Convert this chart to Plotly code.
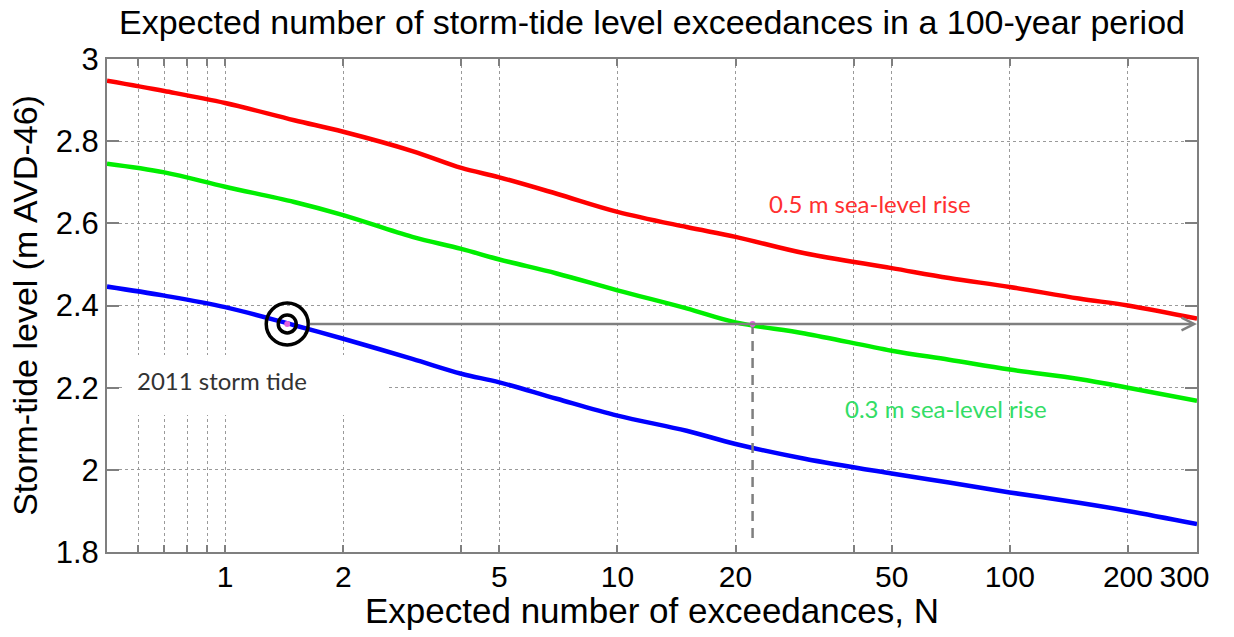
import math
import plotly.graph_objects as go

# ---- data ----
N = [0.5, 0.7, 1, 1.5, 2, 3, 4, 5, 7, 10, 15, 20, 30, 50, 70, 100, 150, 200, 300]
level_slr05 = [2.947, 2.922, 2.893, 2.851, 2.823, 2.776, 2.735, 2.712, 2.672, 2.628, 2.591,
               2.567, 2.527, 2.491, 2.467, 2.445, 2.417, 2.400, 2.368]
level_slr03 = [2.745, 2.724, 2.689, 2.652, 2.620, 2.567, 2.538, 2.512, 2.478, 2.437, 2.393,
               2.359, 2.332, 2.290, 2.268, 2.244, 2.221, 2.200, 2.168]
level_now = [2.446, 2.424, 2.396, 2.352, 2.319, 2.270, 2.234, 2.213, 2.173, 2.132, 2.095,
             2.063, 2.027, 1.991, 1.969, 1.945, 1.920, 1.900, 1.868]

storm_N = 1.44          # 2011 storm tide expected exceedances (today)
storm_level = 2.355     # 2011 storm tide level
slr_N = 22.1            # exceedances of the same level with 0.3 m SLR
dash_bottom = 1.822

x_tickvals = [0.6, 0.7, 0.8, 0.9, 1, 2, 4, 5, 10, 20, 40, 50, 100, 200, 300]
x_ticktext = ['', '', '', '', '1', '2', '', '5', '10', '20', '', '50', '100', '200',
              '300\u00a0\u00a0\u00a0']
x_range = [0.5, 300]
y_range = [1.8, 3.0]

AX_FONT = "Liberation Sans, Arial, sans-serif"
NOTE_FONT = "Lato, Open Sans, sans-serif"
GRAY = "#7f7f7f"

fig = go.Figure()

fig.add_trace(go.Scatter(x=N, y=level_slr05, mode="lines", line_shape="spline",
                         line=dict(color="#ff0000", width=4.5), hoverinfo="skip"))
fig.add_trace(go.Scatter(x=N, y=level_slr03, mode="lines", line_shape="spline",
                         line=dict(color="#00ee00", width=4.5), hoverinfo="skip"))
fig.add_trace(go.Scatter(x=N, y=level_now, mode="lines", line_shape="spline",
                         line=dict(color="#0000ff", width=4.5), hoverinfo="skip"))

# dashed drop line
fig.add_trace(go.Scatter(x=[slr_N, slr_N], y=[storm_level, dash_bottom], mode="lines",
                         line=dict(color=GRAY, width=2.5, dash="10px,7px"), hoverinfo="skip"))

# bullseye marker for the 2011 storm tide
fig.add_trace(go.Scatter(x=[storm_N], y=[storm_level], mode="markers",
                         marker=dict(symbol="circle-open", size=42, color="black",
                                     line=dict(width=3.5, color="black")), hoverinfo="skip"))
fig.add_trace(go.Scatter(x=[storm_N], y=[storm_level], mode="markers",
                         marker=dict(symbol="circle-open", size=18, color="black",
                                     line=dict(width=3.5, color="black")), hoverinfo="skip"))
fig.add_trace(go.Scatter(x=[storm_N, slr_N], y=[storm_level, storm_level], mode="markers",
                         marker=dict(symbol="circle", size=6, color="#e060e0"), hoverinfo="skip"))

# horizontal arrow from storm point to right edge
fig.add_annotation(x=math.log10(x_range[1]), y=storm_level, xref="x", yref="y",
                   ax=math.log10(storm_N), ay=storm_level, axref="x", ayref="y",
                   text="", showarrow=True, arrowhead=5, arrowsize=1.0, arrowwidth=2.5,
                   arrowcolor=GRAY, startstandoff=21, standoff=0)

# white box behind the "2011 storm tide" label (hides the grid there)
fig.add_annotation(x=math.log10(x_range[0]), y=2.207, xref="x", yref="y",
                   xanchor="left", yanchor="middle", xshift=15,
                   text="\u00a0", showarrow=False, width=266, height=60,
                   bgcolor="white", borderpad=0, borderwidth=0)

fig.add_annotation(x=math.log10(0.589), y=2.217, xref="x", yref="y", xanchor="left",
                   yanchor="middle", text="2011 storm tide", showarrow=False,
                   font=dict(family=NOTE_FONT, size=24, color="#333333"))
fig.add_annotation(x=math.log10(24.1), y=2.649, xref="x", yref="y", xanchor="left",
                   yanchor="middle", text="0.5 m sea-level rise", showarrow=False,
                   font=dict(family=NOTE_FONT, size=24, color="#ff3030"))
fig.add_annotation(x=math.log10(37.5), y=2.149, xref="x", yref="y", xanchor="left",
                   yanchor="middle", text="0.3 m sea-level rise", showarrow=False,
                   font=dict(family=NOTE_FONT, size=24, color="#33dd66"))

# x-axis title
fig.add_annotation(x=0.5, y=-58 / 493, xref="paper", yref="paper", xanchor="center",
                   yanchor="middle", text="Expected number of exceedances, N", showarrow=False,
                   font=dict(family=AX_FONT, size=35, color="black"))

fig.update_layout(
    width=1234, height=637,
    margin=dict(l=107, r=37, t=59, b=85, autoexpand=False),
    paper_bgcolor="white", plot_bgcolor="white",
    showlegend=False,
    title=dict(text="Expected number of storm-tide level exceedances in a 100-year period",
               x=0.5, xref="paper", xanchor="center", y=1 - 22 / 637, yanchor="middle",
               font=dict(family=AX_FONT, size=34, color="black")),
    font=dict(family=AX_FONT, color="black"),
)

fig.update_xaxes(type="log", range=[math.log10(x_range[0]), math.log10(x_range[1])],
                 automargin=False,
                 tickmode="array", tickvals=x_tickvals, ticktext=x_ticktext,
                 ticks="inside", ticklen=7, tickwidth=1.5, tickcolor=GRAY,
                 ticklabeloverflow="allow", ticklabelstandoff=-3,
                 showline=True, linecolor=GRAY, linewidth=2, mirror="ticks",
                 showgrid=True, gridcolor="#9a9a9a", griddash="dot", gridwidth=1,
                 zeroline=False, tickfont=dict(family=AX_FONT, size=30, color="black"))
fig.update_yaxes(range=y_range, tick0=1.8, dtick=0.2, automargin=False,
                 ticks="inside", ticklen=12, tickwidth=1.5, tickcolor=GRAY,
                 showline=True, linecolor=GRAY, linewidth=2, mirror="ticks",
                 showgrid=True, gridcolor="#9a9a9a", griddash="dot", gridwidth=1,
                 zeroline=False, tickfont=dict(family=AX_FONT, size=31, color="black"),
                 title=dict(text="Storm-tide level (m AVD-46)",
                            font=dict(family=AX_FONT, size=34, color="black"), standoff=8))

fig.write_html("out.html", config={"displayModeBar": False},
               post_script="document.body.style.margin='0';document.body.style.padding='0';")
